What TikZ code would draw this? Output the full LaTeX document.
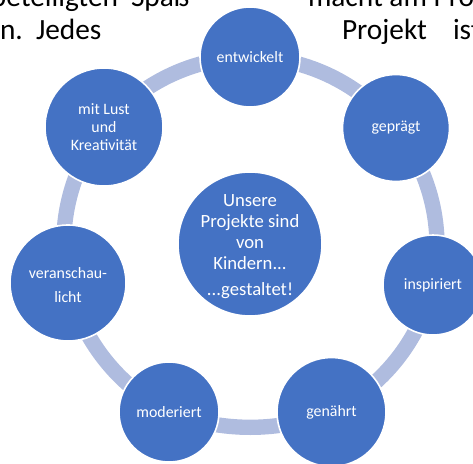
\documentclass[tikz,border=0pt]{standalone}
\usepackage{fontspec}
\setmainfont{Carlito}
\usetikzlibrary{backgrounds}
\definecolor{blob}{HTML}{4472C4}
\definecolor{ring}{HTML}{AFBCDF}
\tikzset{
  x=0.75pt,y=-0.75pt,
  blobnode/.style={circle,fill=blob,draw=white,line width=1.2pt,text=white,align=center,inner sep=0pt,outer sep=0pt,minimum size=#1*0.75pt,font=\fontsize{11.9}{13.5}\selectfont},
  ringlink/.style={ring,line width=11.5pt,bend left=25,looseness=0.9,line cap=butt},
  bodytext/.style={anchor=base west,inner sep=0pt,outer sep=0pt,font=\fontsize{22}{24}\selectfont,text=black}
}
\begin{document}
\begin{tikzpicture}
\useasboundingbox (0,0) rectangle (473,463);
\clip (0,0) rectangle (473,463);
\node[bodytext,anchor=base east] (t1) at (118,7) {beteiligten};
\node[bodytext] (t2) at (131,7) {Spaß};
\node[bodytext] (t3) at (308,7) {macht am Proj};
\node[bodytext] (t4) at (0,39.5) {n.};
\node[bodytext] (t5) at (36,39.5) {Jedes};
\node[bodytext] (t6) at (342,39.5) {Projekt};
\node[bodytext] (t7) at (453,39.5) {ist};
\node[blobnode=100] (a) at (250,57) {entwickelt};
\node[blobnode=107] (b) at (396,128) {geprägt};
\node[blobnode=100] (c) at (433,285) {inspiriert};
\node[blobnode=109] (d) at (331.5,412) {genährt};
\node[blobnode=100] (e) at (169,412) {moderiert};
\node[blobnode=116] (f) at (68,283) {\rule{0pt}{12pt}veranschau-\\[4.5pt]licht};
\node[blobnode=118] (g) at (104,127) {mit Lust\\und\\Kreativität};
\node[blobnode=144,inner sep=-6pt,font=\fontsize{14}{15.8}\selectfont] (m) at (250,244) {\rule{0pt}{13pt}Unsere\\Projekte sind\\von\\Kindern...\\[4pt]...gestaltet!};
\begin{scope}[on background layer]
\draw[ringlink] (a.center) to (b.center);
\draw[ringlink] (b.center) to (c.center);
\draw[ringlink] (c.center) to (d.center);
\draw[ringlink,bend left=21] (d.center) to (e.center);
\draw[ringlink] (e.center) to (f.center);
\draw[ringlink] (f.center) to (g.center);
\draw[ringlink] (g.center) to (a.center);
\end{scope}
\end{tikzpicture}
\end{document}
